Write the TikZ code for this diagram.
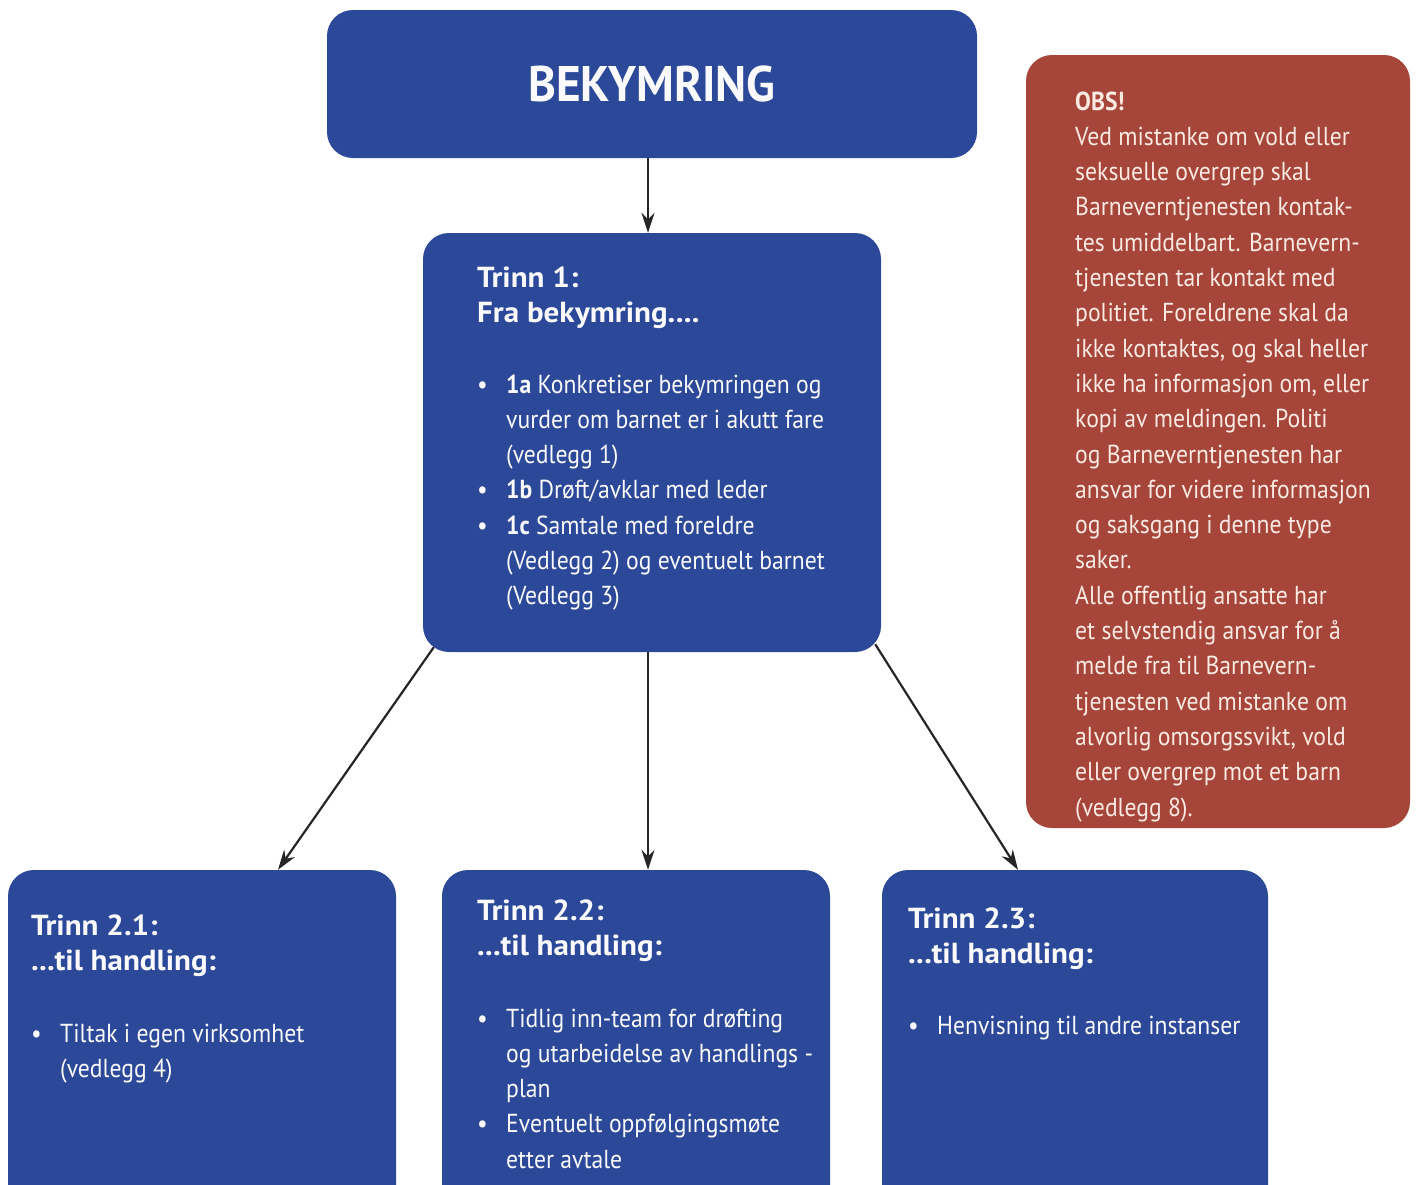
\documentclass[tikz,border=0pt]{standalone}
\usepackage{fontspec}
\setmainfont{PT Sans}[FakeStretch=0.91]
\newfontfamily\titlefont{PT Sans}[FakeStretch=1.07]
\newfontfamily\headfont{PT Sans}[FakeStretch=0.945]
\usetikzlibrary{arrows.meta}
\definecolor{boxblue}{RGB}{43,73,152}
\definecolor{boxred}{RGB}{166,69,57}
\definecolor{txtw}{RGB}{250,250,252}
\definecolor{txtr}{RGB}{250,234,226}
\begin{document}
\begin{tikzpicture}[x=1pt,y=-1pt,
  bluebox/.style={fill=boxblue, draw=none, rounded corners=26pt, inner sep=0pt},
  redbox/.style={fill=boxred, draw=none, rounded corners=26pt, inner sep=0pt},
  bodytxt/.style={anchor=base west, inner sep=0pt, text=txtw, font=\fontsize{26}{35.3}\selectfont},
  titletxt/.style={anchor=base west, inner sep=0pt, text=txtw, font=\titlefont\bfseries\fontsize{29}{35.3}\selectfont},
  conn/.style={draw=black!85, line width=2.2pt, -{Stealth[length=20pt,width=13pt]}}]
\path[use as bounding box] (0,0) rectangle (1418,1184);
\clip (0,0) rectangle (1418,1184);
\fill[white] (0,0) rectangle (1418,1184);

% boxes
\node[bluebox, minimum width=650pt, minimum height=148pt, text=txtw,
      font=\headfont\bfseries\fontsize{50}{60}\selectfont] (top) at (652,84) {BEKYMRING};
\node[bluebox, minimum width=458pt, minimum height=419pt] (t1) at (652,442.5) {};
\node[redbox, minimum width=384pt, minimum height=773pt] (obs) at (1218,441.5) {};
\node[bluebox, minimum width=388pt, minimum height=360pt] (b21) at (202,1050) {};
\node[bluebox, minimum width=388pt, minimum height=360pt] (b22) at (636,1050) {};
\node[bluebox, minimum width=386pt, minimum height=360pt] (b23) at (1075,1050) {};

% Trinn 1
\node[titletxt] (t1title) at (477,287) {\begin{tabular}[t]{@{}l@{}}Trinn 1:\\Fra bekymring....\end{tabular}};
\node[bodytxt] (t1body) at (477,393) {\begin{tabular}[t]{@{}p{29pt}@{}l@{}}
\textbullet & \textbf{1a} Konkretiser bekymringen og\\
 & vurder om barnet er i akutt fare\\
 & (vedlegg 1)\\
\textbullet & \textbf{1b} Drøft/avklar med leder\\
\textbullet & \textbf{1c} Samtale med foreldre\\
 & (Vedlegg 2) og eventuelt barnet\\
 & (Vedlegg 3)
\end{tabular}};

% OBS
\node[bodytxt, text=txtr] (obstext) at (1075,110) {\begin{tabular}[t]{@{}l@{}}
\textbf{OBS!}\\
Ved mistanke om vold eller\\
seksuelle overgrep skal\\
Barneverntjenesten kontak-\\
tes umiddelbart. Barnevern-\\
tjenesten tar kontakt med\\
politiet. Foreldrene skal da\\
ikke kontaktes, og skal heller\\
ikke ha informasjon om, eller\\
kopi av meldingen. Politi\\
og Barneverntjenesten har\\
ansvar for videre informasjon\\
og saksgang i denne type\\
saker.\\
Alle offentlig ansatte har\\
et selvstendig ansvar for å\\
melde fra til Barnevern-\\
tjenesten ved mistanke om\\
alvorlig omsorgssvikt, vold\\
eller overgrep mot et barn\\
(vedlegg 8).
\end{tabular}};

% Trinn 2.1
\node[titletxt] (b21title) at (31,935) {\begin{tabular}[t]{@{}l@{}}Trinn 2.1:\\...til handling:\end{tabular}};
\node[bodytxt] (b21body) at (31,1042) {\begin{tabular}[t]{@{}p{29pt}@{}l@{}}
\textbullet & Tiltak i egen virksomhet\\
 & (vedlegg 4)
\end{tabular}};

% Trinn 2.2
\node[titletxt] (b22title) at (477,920) {\begin{tabular}[t]{@{}l@{}}Trinn 2.2:\\...til handling:\end{tabular}};
\node[bodytxt] (b22body) at (477,1027) {\begin{tabular}[t]{@{}p{29pt}@{}l@{}}
\textbullet & Tidlig inn-team for drøfting\\
 & og utarbeidelse av handlings -\\
 & plan\\
\textbullet & Eventuelt oppfølgingsmøte\\
 & etter avtale
\end{tabular}};

% Trinn 2.3
\node[titletxt] (b23title) at (908,928) {\begin{tabular}[t]{@{}l@{}}Trinn 2.3:\\...til handling:\end{tabular}};
\node[bodytxt] (b23body) at (908,1034) {\begin{tabular}[t]{@{}p{29pt}@{}l@{}}
\textbullet & Henvisning til andre instanser
\end{tabular}};

% connectors
\draw[conn] ([xshift=-4pt]top.south) -- ([xshift=-4pt]t1.north);
\draw[conn] ([xshift=-4pt]t1.south) -- ([xshift=12pt]b22.north);
\draw[conn] ([xshift=11pt,yshift=5pt]t1.south west) -- ([xshift=76pt]b21.north);
\draw[conn] ([xshift=-6pt,yshift=8pt]t1.south east) -- ([xshift=-57pt]b23.north);
\end{tikzpicture}
\end{document}
